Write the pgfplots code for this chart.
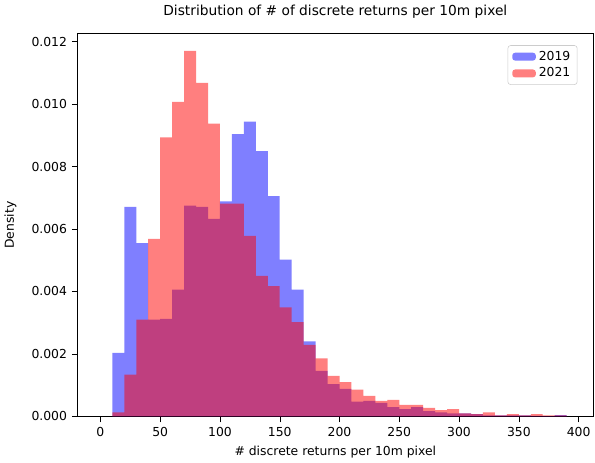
\documentclass[border=0pt]{standalone}
\usepackage{pgfplots}
\pgfplotsset{compat=1.18}
\usepackage{fontspec}
\setmainfont{DejaVu Sans}
\begin{document}
\begin{tikzpicture}
\begin{axis}[
  scale only axis, width=373bp, height=277bp,
  xmin=-19, xmax=412, ymin=0, ymax=0.01225,
  xtick={0,50,...,400},
  ytick={0,0.002,...,0.012},
  scaled y ticks=false,
  yticklabel style={/pgf/number format/.cd,fixed,fixed zerofill,precision=3},
  /pgf/number format/assume math mode=true,
  tick style={black}, tick align=outside, xtick pos=bottom, ytick pos=left,
  ticklabel style={font=\small},
  title={Distribution of \# of discrete returns per 10m pixel},
  title style={font=\normalsize, yshift=2pt},
  xlabel={\# discrete returns per 10m pixel},
  ylabel={Density},
  label style={font=\small},
  ylabel style={yshift=4pt},
  legend pos=north east,
  legend style={font=\small, draw=black!20, rounded corners=2pt},
  legend cell align=left,
]
\addplot[ybar interval, fill=blue, fill opacity=0.5, draw=blue, draw opacity=0, area legend] coordinates {
(10,0.00203)(20,0.00671)(30,0.00555)(40,0.00310)(50,0.00312)(60,0.00406)(70,0.00675)(80,0.00671)(90,0.00632)(100,0.00688)(110,0.00904)(120,0.00944)(130,0.00849)(140,0.00705)(150,0.00502)(160,0.00406)(170,0.00240)(180,0.00146)(190,0.00103)(200,0.00088)(210,0.00047)(220,0.00050)(230,0.00043)(240,0.00030)(250,0.00023)(260,0.00030)(270,0.00017)(280,0.00013)(290,0.00010)(300,0.00010)(310,0.00007)(320,0.00003)(330,0.00003)(340,0.00003)(350,0.00003)(360,0.00002)(370,0.00001)(380,0.00004)(390,0.00004)};
\addlegendentry{2019}
\addplot[ybar interval, fill=red, fill opacity=0.5, draw=red, draw opacity=0, area legend] coordinates {
(10,0.00013)(20,0.00134)(30,0.00310)(40,0.00568)(50,0.00893)(60,0.01007)(70,0.0117)(80,0.01068)(90,0.00937)(100,0.00681)(110,0.00681)(120,0.00578)(130,0.00450)(140,0.00417)(150,0.00349)(160,0.00302)(170,0.00229)(180,0.00186)(190,0.00130)(200,0.00110)(210,0.00086)(220,0.00066)(230,0.00050)(240,0.00053)(250,0.00037)(260,0.00037)(270,0.00027)(280,0.00020)(290,0.00023)(300,0.00010)(310,0.00007)(320,0.00013)(330,0.00003)(340,0.00007)(350,0.00003)(360,0.00007)(370,0.00003)(380,0.00003)(390,0.00003)};
\addlegendentry{2021}
\end{axis}
\end{tikzpicture}
\end{document}
